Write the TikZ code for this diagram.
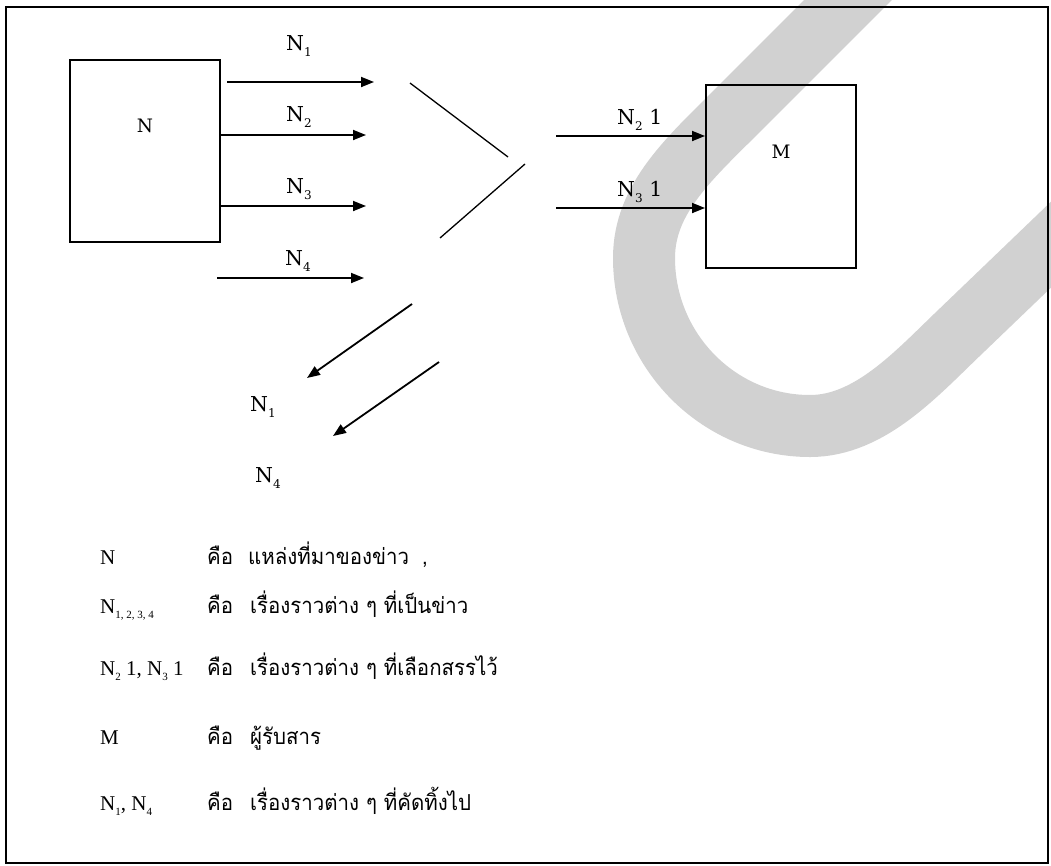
\documentclass[tikz,border=0pt]{standalone}
\usepackage{fontspec}
\setmainfont{Liberation Serif}
\newfontfamily\dserif{DejaVu Serif}
\newfontfamily\thai[Script=Thai,FakeStretch=0.93]{Loma}
\usetikzlibrary{arrows.meta}
\definecolor{wm}{RGB}{209,209,209}
\newcommand\lsub[1]{\raisebox{-0.3em}{\fontsize{12}{12}\selectfont #1}}
\newcommand\gsub[1]{\raisebox{-0.28em}{\fontsize{11}{11}\selectfont #1}}
\begin{document}
\begin{tikzpicture}[x=1pt,y=-1pt,
  box/.style={draw,line width=1.7pt,minimum width=150pt,inner sep=0pt,anchor=north west},
  arr/.style={line width=1.8pt,-{Triangle[length=13pt,width=10pt]}},
  funnel/.style={line width=1.3pt},
  lab/.style={font=\dserif\fontsize{20.5}{20.5}\selectfont,inner sep=0pt,anchor=base west},
  boxlab/.style={font=\dserif\fontsize{18.5}{18.5}\selectfont,inner sep=0pt,anchor=base},
  leg/.style={font=\fontsize{21}{21}\selectfont,inner sep=0pt,anchor=base west},
  legt/.style={font=\thai\fontsize{22}{22}\selectfont,inner sep=0pt,anchor=base west}]
\useasboundingbox (0,0) rectangle (1051,865);
% watermark band
\begin{scope}
\clip (0,0) rectangle (1051,865);
\draw[wm,line width=62pt] (890,-42) -- (740,108) .. controls (690,158) and (644,198) .. (644,258)
  .. controls (644,350) and (718,426) .. (810,426) .. controls (870,426) and (917,373) .. (960,332) -- (1111,187);
\end{scope}
% frame
\node[draw,line width=1.8pt,inner sep=0pt,anchor=north west,minimum width=1042pt,minimum height=856pt] (frame) at (5,6) {};
% boxes
\node[box,minimum height=182pt] (nbox) at (69,59) {};
\node[box,minimum height=183pt] (mbox) at (705,84) {};
\node[boxlab] (nlab) at (145,132) {N};
\node[boxlab] (mlab) at (781,158) {M};
% coordinates of arrows
\coordinate (a1s) at (227,82);  \coordinate (a1e) at (374,82);
\coordinate (a2s) at (nbox.east |- 0,135); \coordinate (a2e) at (366,135);
\coordinate (a3s) at (nbox.east |- 0,206); \coordinate (a3e) at (366,206);
\coordinate (a4s) at (217,278); \coordinate (a4e) at (364,278);
\coordinate (b1s) at (556,136); \coordinate (b1e) at (mbox.west |- 0,136);
\coordinate (b2s) at (556,208); \coordinate (b2e) at (mbox.west |- 0,208);
\coordinate (f1s) at (410,83);  \coordinate (f1e) at (508,157);
\coordinate (f2s) at (525,164); \coordinate (f2e) at (440,238);
\coordinate (d1s) at (412,304); \coordinate (d1e) at (307,378);
\coordinate (d2s) at (439,362); \coordinate (d2e) at (333,436);
\draw[arr] (a1s) -- (a1e);
\draw[arr] (a2s) -- (a2e);
\draw[arr] (a3s) -- (a3e);
\draw[arr] (a4s) -- (a4e);
\draw[arr] (b1s) -- (b1e);
\draw[arr] (b2s) -- (b2e);
\draw[funnel] (f1s) -- (f1e);
\draw[funnel] (f2s) -- (f2e);
\draw[arr] (d1s) -- (d1e);
\draw[arr] (d2s) -- (d2e);
% labels
\node[lab] (l1) at (286,50) {N\lsub{1}};
\node[lab] (l2) at (286,121) {N\lsub{2}};
\node[lab] (l3) at (286,193) {N\lsub{3}};
\node[lab] (l4) at (285,265) {N\lsub{4}};
\node[lab] (m1) at (617,124) {N\lsub{2} 1};
\node[lab] (m2) at (617,196) {N\lsub{3} 1};
\node[lab] (d1) at (250,411) {N\lsub{1}};
\node[lab] (d2) at (255,482) {N\lsub{4}};
% legend
\node[leg] (g1a) at (100,564) {N};
\node[legt] (g1b) at (207,564) {คือ};
\node[legt] (g1c) at (248,564) {แหล่งที่มาของข่าว\hspace{13pt},};
\node[leg] (g2a) at (100,613) {N\gsub{1, 2, 3, 4}};
\node[legt] (g2b) at (207,613) {คือ};
\node[legt] (g2c) at (250,613) {เรื่องราวต่าง ๆ ที่เป็นข่าว};
\node[leg] (g3a) at (100,675) {N\gsub{2} 1, N\gsub{3} 1};
\node[legt] (g3b) at (207,675) {คือ};
\node[legt] (g3c) at (250,675) {เรื่องราวต่าง ๆ ที่เลือกสรรไว้};
\node[leg] (g4a) at (100,744) {M};
\node[legt] (g4b) at (207,744) {คือ};
\node[legt] (g4c) at (250,744) {ผู้รับสาร};
\node[leg] (g5a) at (100,810) {N\gsub{1}, N\gsub{4}};
\node[legt] (g5b) at (207,810) {คือ};
\node[legt] (g5c) at (250,810) {เรื่องราวต่าง ๆ ที่คัดทิ้งไป};
\end{tikzpicture}
\end{document}
